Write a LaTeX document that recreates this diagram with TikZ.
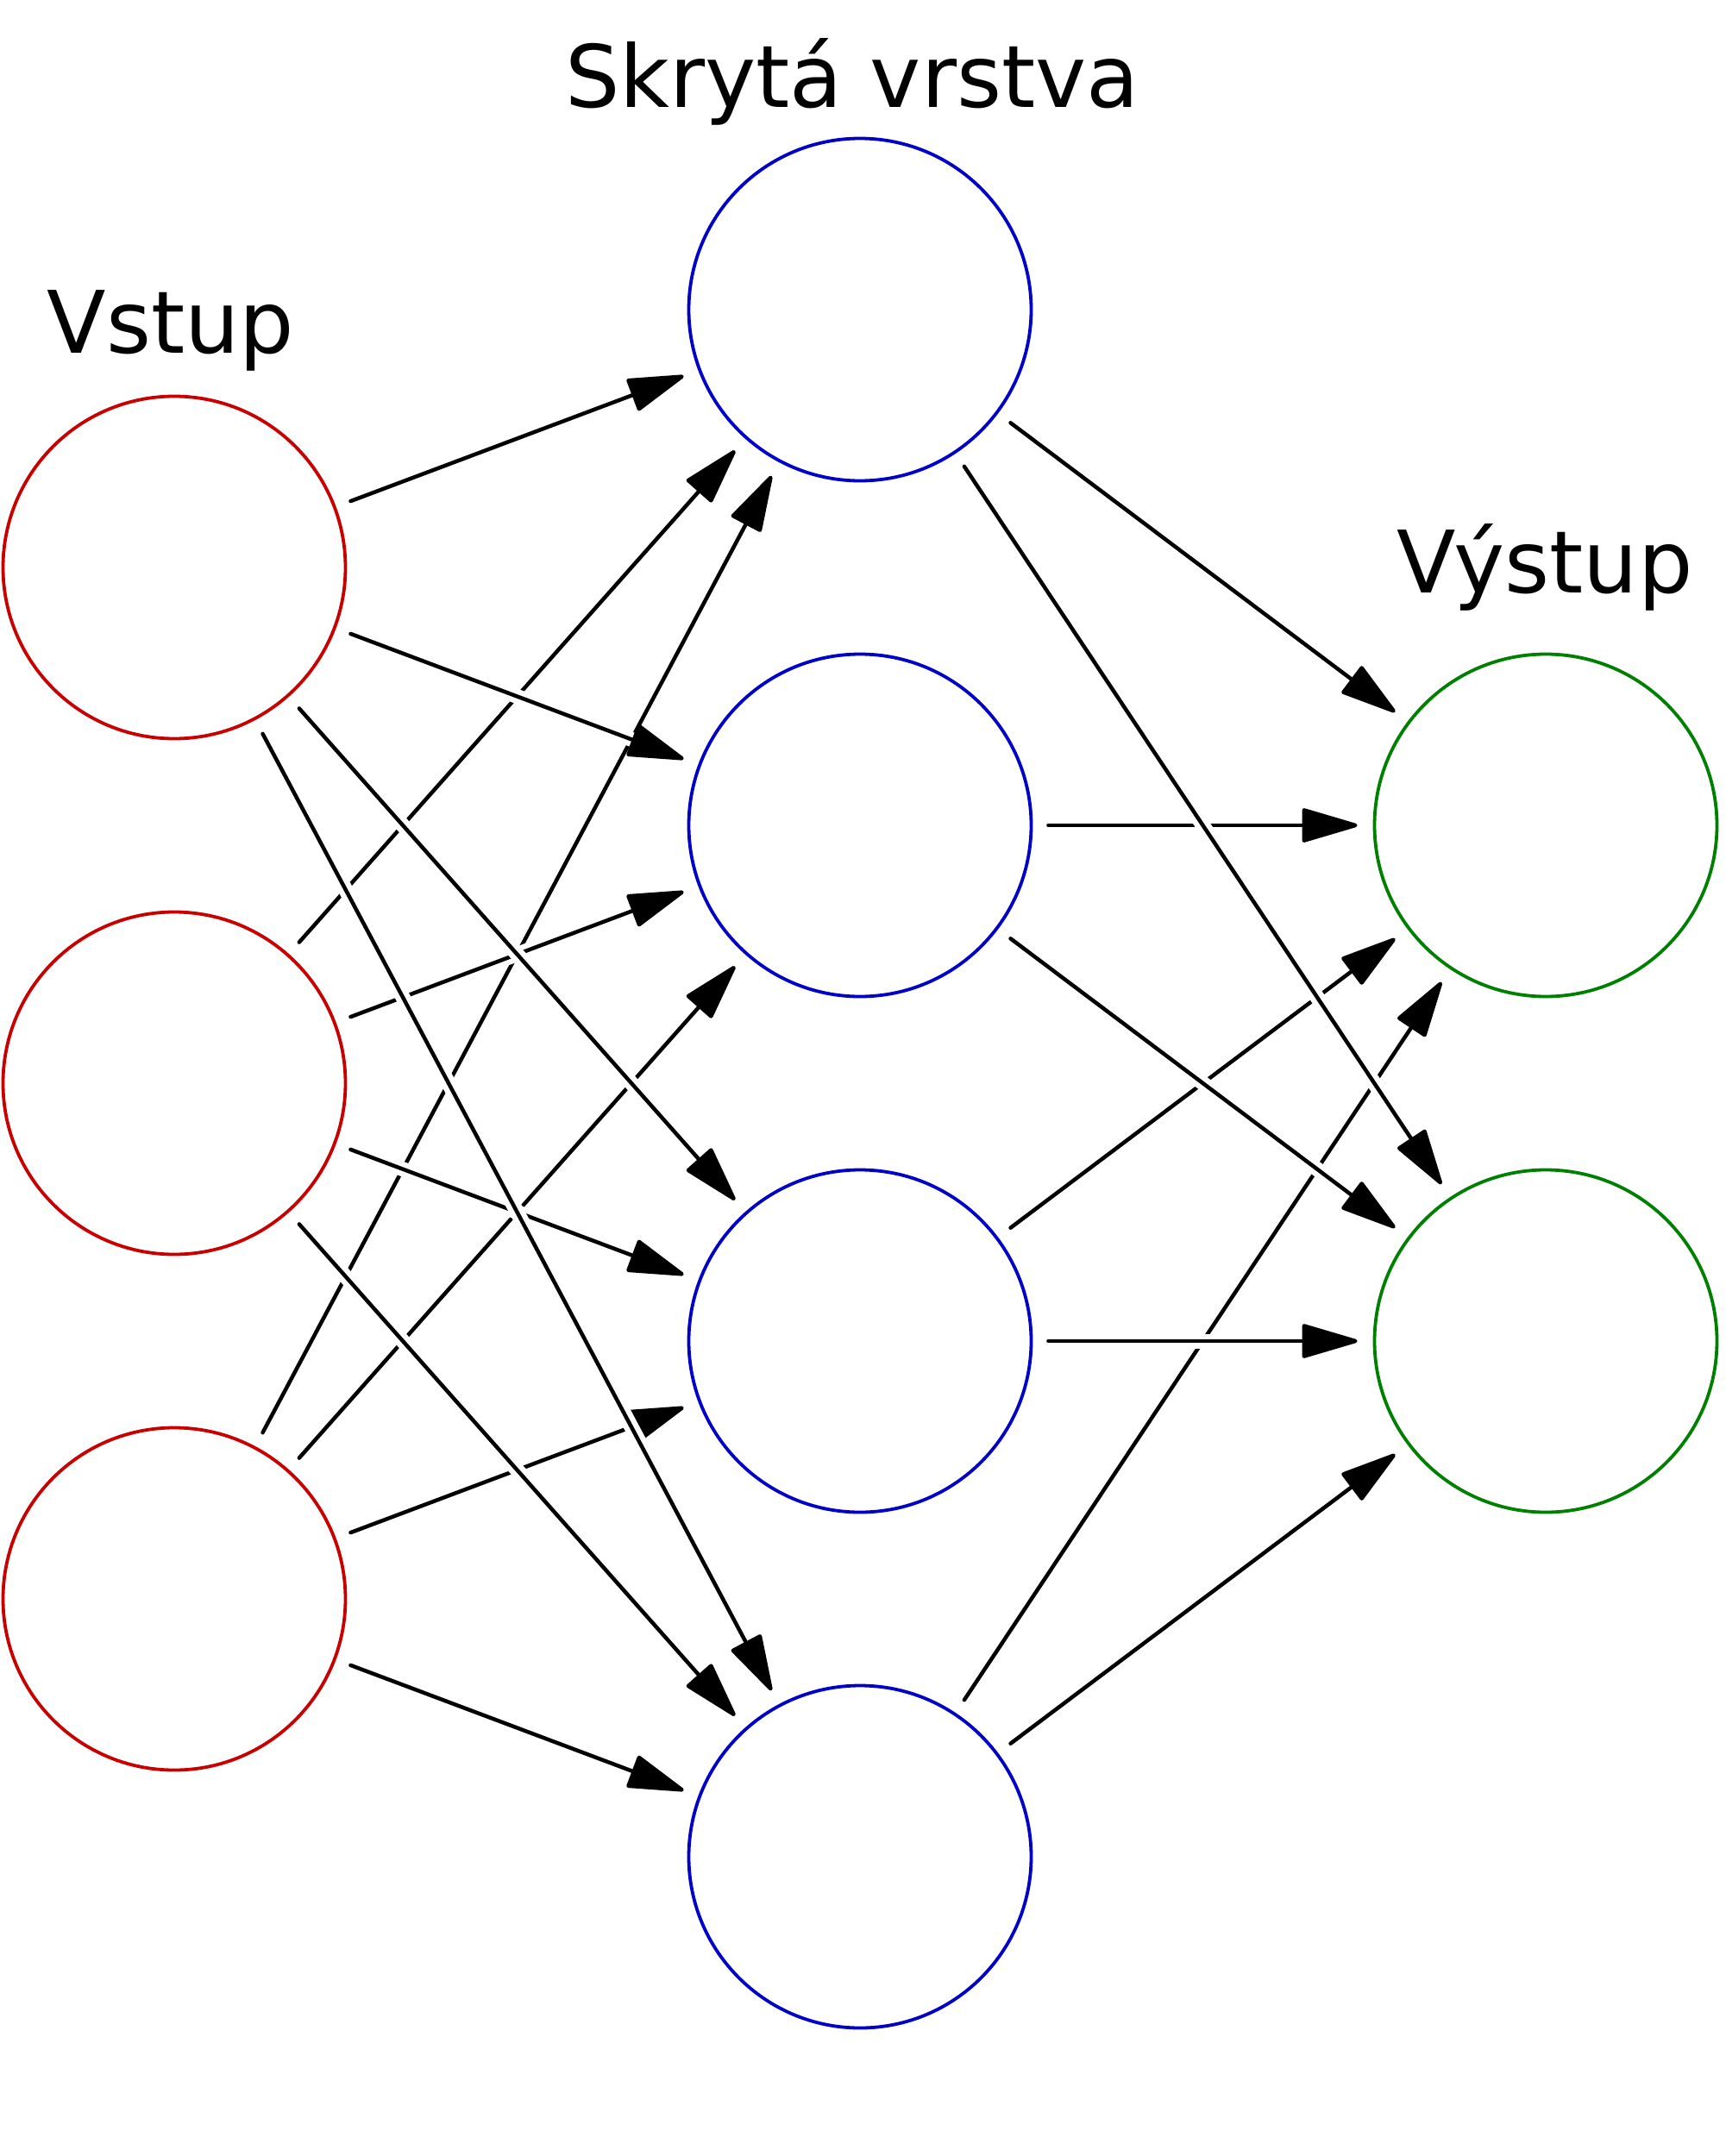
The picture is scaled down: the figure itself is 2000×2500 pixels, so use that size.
\documentclass[tikz,border=0pt]{standalone}
\usepackage{fontspec}
\setmainfont{DejaVu Sans}
\usetikzlibrary{arrows.meta}
\definecolor{inred}{RGB}{200,0,0}
\definecolor{hidblue}{RGB}{0,0,200}
\definecolor{outgreen}{RGB}{0,128,0}
\tikzset{
  neuron/.style={circle, minimum size=397pt, inner sep=0pt, outer sep=1.9pt, line width=3.8pt, fill=none},
  inneuron/.style={neuron, draw=inred},
  hidneuron/.style={neuron, draw=hidblue},
  outneuron/.style={neuron, draw=outgreen},
  lbl/.style={anchor=base, inner sep=0pt, font=\fontsize{100pt}{120pt}\selectfont},
  edge/.style={line width=4.5pt, line cap=round, black,
    -{Triangle[length=70pt,width=40pt,round]},
    shorten <=18pt, shorten >=18pt,
    preaction={draw=white, line width=17pt, -, line cap=butt}}
}
\begin{document}
\begin{tikzpicture}[x=1pt,y=-1pt]
\useasboundingbox (0,0) rectangle (2000,2500);
\fill[white] (0,0) rectangle (2000,2500);
% labels
\node[lbl] (lh) at (988,124) {Skrytá vrstva};
\node[lbl] (li) at (198,409) {Vstup};
\node[lbl] (lo) at (1791,687) {Výstup};
% neurons
\node[inneuron] (i1) at (202,658) {};
\node[inneuron] (i2) at (202,1256) {};
\node[inneuron] (i3) at (202,1854) {};
\node[hidneuron] (h1) at (997,359) {};
\node[hidneuron] (h2) at (997,957) {};
\node[hidneuron] (h3) at (997,1555) {};
\node[hidneuron] (h4) at (997,2153) {};
\node[outneuron] (o1) at (1792,957) {};
\node[outneuron] (o2) at (1792,1555) {};
% hidden -> output (lower sources first, so upper ones lie on top)
\foreach \s in {4,3,2,1}{
  \foreach \t in {1,2}{
    \draw[edge] (h\s) -- (o\t);
  }
}
% input -> hidden
\foreach \s in {3,2,1}{
  \foreach \t in {1,2,3,4}{
    \draw[edge] (i\s) -- (h\t);
  }
}
\end{tikzpicture}
\end{document}
